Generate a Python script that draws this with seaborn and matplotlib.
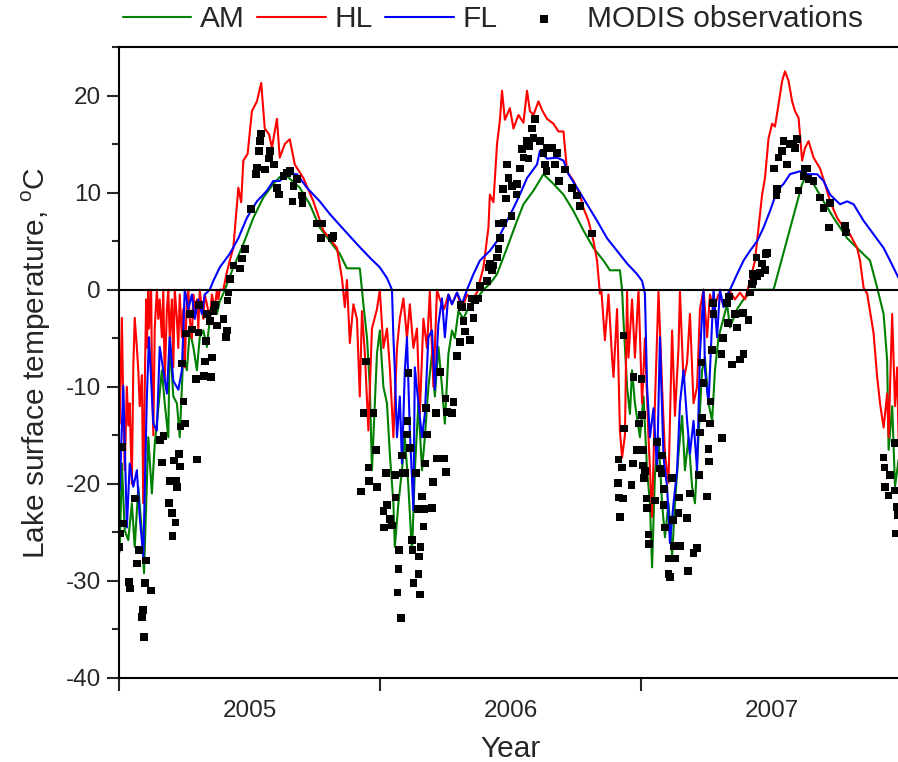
import pandas as pd
import matplotlib.pyplot as plt
import seaborn as sns
from matplotlib.ticker import MultipleLocator, FixedLocator

# days since 2005-01-01 and lake surface temperature (deg C)
am_day = [1, 4, 8, 13, 18, 22, 27, 32, 35, 41, 46, 50, 55, 60, 64, 69, 71, 76, 81, 85,
          90, 95, 99, 104, 109, 113, 118, 123, 127, 132, 137, 141, 146, 160, 174, 188, 202, 216, 225, 232,
          253, 267, 281, 295, 309, 319, 337, 340, 342, 347, 351, 354, 361, 365, 370, 375, 379, 384, 386, 391,
          396, 400, 405, 410, 414, 419, 424, 428, 433, 438, 442, 447, 452, 456, 461, 466, 470, 475, 482, 491,
          501, 510, 519, 529, 543, 557, 566, 580, 594, 608, 622, 636, 650, 664, 678, 687, 701, 704, 706, 711,
          715, 718, 722, 729, 734, 739, 743, 746, 750, 755, 760, 764, 769, 774, 778, 783, 788, 792, 797, 802,
          806, 811, 816, 820, 825, 830, 834, 839, 844, 851, 855, 865, 874, 888, 916, 956, 963, 972, 986, 1000,
          1019, 1037, 1051, 1061, 1070, 1075, 1077, 1082, 1086, 1091]
am_temp = [-27.0, -17.9, -24.8, -25.8, -22.0, -26.5, -20.3, -25.0, -29.2, -15.2, -21.0, -15.9, -12.2, -8.3, -11.7, -15.2, -4.9, -11.0, -11.7, -15.2,
           -6.6, -8.3, -4.2, -5.9, -8.3, -4.9, -4.2, -5.9, -3.0, -1.5, -2.5, -1.2, -0.4, 2.3, 4.7, 7.4, 9.5, 10.9, 11.6, 11.9,
           10.5, 8.8, 6.4, 5.0, 3.7, 2.2, 2.2, 0.0, -1.5, -4.9, -10.0, -18.6, -6.6, -4.2, -10.0, -11.7, -16.9, -22.0, -26.5, -22.0,
           -18.6, -15.2, -20.3, -27.1, -18.6, -11.7, -18.6, -15.2, -10.0, -6.6, -11.0, -5.9, -10.0, -13.8, -6.6, -4.2, -5.0, -2.2, -3.0, -1.5,
           -0.9, 0.0, 0.6, 1.6, 4.3, 7.1, 8.8, 10.2, 11.9, 10.9, 9.8, 8.1, 6.1, 4.3, 3.0, 2.0, 2.0, 0.0, -3.2, -10.0,
           -12.8, -8.3, -11.7, -15.2, -11.0, -18.6, -22.0, -28.6, -19.0, -15.2, -22.0, -25.5, -22.0, -27.5, -22.0, -16.9, -13.0, -18.6, -15.2, -20.3,
           -22.0, -15.2, -8.3, -7.0, -11.7, -13.5, -8.3, -4.9, -3.5, -1.5, -3.9, -2.0, -1.0, 0.0, 0.0, 10.9, 11.9, 10.9, 9.1, 7.4,
           5.3, 4.0, 3.0, 0.2, -2.5, -7.3, -16.5, -12.0, -20.3, -17.5]

hl_day = [1, 4, 6, 8, 11, 13, 15, 18, 20, 22, 25, 27, 29, 32, 34, 36, 38, 39, 41, 42,
          45, 46, 48, 50, 53, 55, 57, 60, 62, 64, 67, 69, 71, 74, 76, 78, 81, 83, 85, 88,
          90, 92, 95, 97, 99, 102, 104, 106, 109, 111, 113, 116, 118, 120, 123, 127, 130, 134, 137, 139,
          141, 146, 150, 155, 160, 167, 171, 174, 180, 186, 193, 199, 204, 210, 214, 221, 225, 232, 239, 246,
          258, 272, 286, 305, 312, 316, 319, 323, 328, 333, 337, 340, 344, 349, 354, 361, 365, 370, 375, 379,
          384, 389, 393, 398, 403, 407, 412, 417, 421, 426, 431, 435, 440, 445, 449, 455, 461, 466, 473, 480,
          487, 494, 501, 505, 510, 517, 519, 524, 529, 533, 536, 540, 547, 552, 559, 566, 571, 575, 580, 587,
          592, 599, 608, 615, 622, 627, 636, 645, 650, 657, 664, 669, 673, 675, 680, 685, 690, 692, 697, 701,
          704, 708, 711, 713, 718, 722, 727, 732, 736, 741, 746, 750, 755, 760, 764, 769, 774, 778, 783, 785,
          790, 795, 799, 804, 809, 813, 818, 823, 827, 832, 839, 846, 855, 862, 869, 876, 883, 890, 895, 900,
          904, 909, 914, 918, 923, 928, 932, 937, 942, 946, 951, 956, 960, 965, 972, 981, 988, 995, 1005, 1014,
          1023, 1033, 1037, 1042, 1047, 1051, 1056, 1061, 1065, 1070, 1075, 1077, 1082, 1086, 1089, 1091]
hl_temp = [-13.8, -2.9, -12.0, -18.6, -10.0, -14.0, -11.7, -20.0, -8.0, -2.9, -6.0, -8.3, -12.0, -8.8, -22.0, -10.0, -1.0, -6.0, 0.0, -4.0,
           0.0, -8.0, -15.0, -4.0, 0.0, -3.0, -1.0, -4.9, 0.0, -9.4, -2.0, 0.0, -5.0, -1.0, -8.0, 0.0, -3.0, -6.0, -0.5, -4.9,
           -2.0, -8.0, -1.0, 0.0, -3.0, -5.0, -0.5, -2.5, -1.0, -4.0, 0.0, -2.0, -3.0, -0.5, -1.5, -3.0, -0.5, -2.0, 0.0, -1.0,
           0.0, 0.0, 1.5, 3.0, 4.3, 10.5, 9.0, 13.3, 14.0, 18.4, 19.4, 21.3, 16.6, 16.0, 14.6, 17.6, 13.6, 15.0, 15.5, 12.9,
           11.5, 9.1, 6.1, 4.3, 1.2, -1.8, 1.0, -5.5, -1.5, -3.0, -11.0, -2.2, -6.5, -14.5, -4.0, -2.0, 0.0, -6.0, -4.0, -8.0,
           -15.2, -6.0, -3.0, -0.9, -5.0, -1.5, -6.0, -4.0, -12.8, -3.0, -6.0, -0.2, -10.0, 0.0, -1.0, -2.0, -0.5, -1.5, -0.3, -2.0,
           -0.5, -1.0, -0.3, 0.9, 2.3, 6.4, 9.8, 9.0, 15.0, 17.4, 20.5, 17.5, 18.7, 16.6, 18.0, 17.2, 20.5, 18.4, 18.0, 19.4,
           18.5, 17.6, 17.1, 16.3, 16.3, 12.2, 11.2, 9.8, 8.4, 7.1, 5.0, 3.0, -0.4, 0.0, -5.2, -0.5, -7.0, -9.0, -2.0, -14.5,
           -17.3, -15.0, -0.2, -7.0, -1.0, -7.0, 0.0, -11.7, -5.0, -15.2, -23.4, -11.7, -0.2, -10.0, -16.9, -19.9, -4.2, -13.0, -6.0, -0.2,
           -9.4, -7.5, -2.5, -11.7, -10.0, -2.0, 0.0, -4.9, -0.5, -2.0, -0.5, -1.5, -0.2, -1.0, -0.3, -1.0, 0.9, 3.0, 6.4, 9.8,
           11.5, 15.6, 17.1, 16.8, 19.1, 21.5, 22.5, 21.5, 19.4, 18.4, 17.7, 13.3, 14.6, 15.3, 13.6, 12.5, 10.9, 9.1, 7.4, 6.4,
           5.7, 4.3, 3.0, 0.2, -0.4, -2.2, -4.5, -9.0, -11.7, -14.2, -10.7, -15.2, -2.5, -12.0, -8.0, -15.5]

fl_day = [1, 6, 11, 15, 20, 25, 29, 34, 39, 42, 48, 53, 57, 62, 67, 71, 76, 83, 88, 92,
          97, 102, 106, 111, 116, 120, 127, 132, 141, 155, 167, 179, 193, 207, 216, 225, 235, 249, 263, 281,
          295, 312, 333, 351, 365, 375, 382, 384, 386, 389, 393, 396, 400, 403, 407, 412, 414, 419, 424, 428,
          433, 438, 442, 447, 452, 456, 461, 466, 473, 480, 487, 496, 505, 519, 529, 543, 552, 561, 571, 585,
          589, 599, 613, 622, 629, 641, 655, 669, 683, 697, 711, 725, 732, 736, 739, 743, 748, 753, 757, 762,
          767, 771, 776, 781, 785, 790, 795, 799, 804, 809, 813, 818, 820, 825, 830, 832, 837, 841, 846, 851,
          855, 865, 874, 883, 893, 902, 911, 921, 930, 939, 953, 958, 977, 986, 995, 1009, 1019, 1028, 1042, 1056,
          1070, 1079, 1091]
fl_temp = [-20.7, -9.9, -24.5, -17.9, -20.3, -18.6, -23.4, -27.5, -11.0, -4.9, -13.8, -14.5, -5.9, -8.3, -10.7, -4.9, -9.4, -10.3, -8.3, 0.0,
           -2.0, -0.5, -3.0, -1.0, -2.5, -0.5, 0.0, 0.9, 2.3, 3.7, 5.3, 7.4, 9.1, 10.2, 11.2, 11.2, 11.9, 11.9, 10.5, 9.1,
           7.8, 6.4, 4.7, 3.3, 2.3, 1.2, 0.0, -4.9, -8.3, -15.2, -11.0, -17.9, -8.3, -4.9, -14.5, -22.7, -8.0, -11.7, -15.2, -12.8,
           -4.9, -4.2, -10.3, -3.5, -0.9, -4.9, -0.5, -1.5, -0.3, -1.5, 0.0, 1.6, 3.0, 4.0, 5.0, 7.1, 8.4, 9.8, 11.5, 12.9,
           14.3, 13.5, 13.6, 13.3, 11.9, 10.5, 8.8, 7.1, 5.3, 4.0, 2.7, 1.6, 0.9, -0.4, -10.0, -15.2, -12.2, -18.6, -4.9, -17.3,
           -20.3, -26.1, -22.0, -18.6, -11.7, -8.3, -13.5, -16.9, -13.5, -18.6, -6.6, 0.0, -8.3, -11.7, -3.2, 0.0, -4.9, 0.0, -1.8, -0.5,
           0.0, 1.6, 3.0, 4.0, 5.0, 6.4, 8.1, 10.2, 10.9, 11.9, 12.2, 11.9, 11.9, 11.2, 9.8, 8.8, 9.1, 8.8, 7.1, 5.7,
           4.3, 3.0, 1.2]

modis_day = [0, 1, 4, 6, 14, 15, 22, 25, 28, 32, 34, 35, 36, 38, 45, 57, 60, 62, 70, 71,
             74, 75, 77, 80, 79, 81, 84, 85, 86, 88, 90, 92, 94, 99, 102, 108, 109, 111, 112, 119,
             120, 122, 123, 127, 129, 130, 132, 134, 137, 146, 150, 151, 152, 153, 155, 160, 169, 172, 176, 185,
             192, 193, 196, 197, 199, 204, 210, 211, 217, 221, 224, 230, 235, 239, 244, 243, 249, 256, 257, 277,
             283, 284, 298, 300, 339, 342, 346, 349, 350, 356, 360, 361, 370, 371, 374, 375, 379, 382, 386, 387,
             391, 390, 392, 395, 396, 397, 400, 403, 405, 404, 407, 410, 411, 412, 416, 419, 418, 420, 421, 422,
             424, 427, 426, 428, 431, 430, 438, 439, 445, 444, 449, 455, 458, 457, 459, 466, 468, 473, 477, 478,
             480, 482, 484, 491, 492, 494, 496, 498, 503, 505, 515, 517, 519, 522, 524, 529, 531, 532, 533, 538,
             537, 542, 543, 545, 549, 550, 556, 557, 561, 564, 566, 570, 573, 574, 578, 580, 582, 589, 594, 596,
             598, 599, 606, 610, 613, 616, 624, 634, 641, 645, 662, 699, 698, 700, 701, 704, 705, 706, 707, 717,
             720, 719, 725, 728, 731, 732, 733, 734, 735, 736, 738, 739, 741, 742, 750, 753, 757, 759, 760, 762,
             763, 764, 769, 770, 771, 774, 775, 777, 778, 784, 783, 785, 795, 796, 799, 804, 809, 812, 813, 816,
             815, 818, 823, 825, 826, 827, 828, 830, 832, 831, 843, 844, 845, 851, 852, 854, 858, 862, 865, 869,
             874, 873, 881, 883, 886, 888, 887, 893, 892, 897, 900, 904, 905, 907, 917, 920, 921, 923, 928, 930,
             935, 939, 944, 946, 949, 951, 958, 960, 963, 965, 972, 981, 986, 994, 995, 1016, 1017, 1070, 1071, 1072,
             1077, 1079, 1086, 1085, 1087, 1089, 1090]
modis_temp = [-26.5, -25.1, -16.2, -24.1, -30.1, -30.8, -21.5, -28.2, -26.8, -33.7, -33.0, -35.8, -30.2, -27.9, -31.0, -15.5, -17.8, -15.1, -22.0, -19.7,
              -23.0, -25.4, -17.6, -19.7, -24.0, -20.3, -16.9, -18.2, -14.1, -7.6, -11.5, -13.8, -4.5, -2.5, -4.1, -9.2, -17.5, -4.4, -1.6, -8.9,
              -7.4, -5.3, -2.5, -3.2, -9.0, -7.0, -2.2, -1.6, -3.7, -3.0, -4.9, -4.2, -1.1, -0.3, 1.1, 2.5, 2.2, 3.2, 4.2, 8.3,
              11.9, 12.6, 14.3, 15.3, 16.1, 12.4, 13.5, 14.3, 12.9, 10.5, 9.8, 11.7, 12.0, 12.2, 10.7, 9.1, 11.4, 9.7, 8.9, 6.8,
              5.3, 6.8, 5.3, 5.5, -20.8, -12.7, -7.4, -18.3, -19.7, -12.7, -16.5, -20.3, -22.8, -24.5, -18.9, -22.2, -23.6, -24.3, -19.1, -21.4,
              -28.8, -31.2, -26.8, -33.8, -17.1, -18.9, -18.9, -14.9, -8.6, -13.5, -16.3, -25.8, -26.8, -30.2, -18.9, -29.3, -22.6, -27.5, -31.4, -26.5,
              -21.3, -22.6, -24.4, -17.9, -14.9, -12.2, -22.5, -19.8, -17.4, -12.7, -8.5, -17.4, -18.8, -11.2, -12.6, -12.7, -11.6, -6.8, -5.4, -1.6,
              -1.8, -3.2, -4.3, -5.2, -1.8, -0.9, -2.9, -1.1, -0.9, 0.4, 0.9, 2.3, 2.7, 2.0, 2.5, 3.3, 4.2, 6.8, 5.3, 6.9,
              10.4, 9.4, 12.9, 11.5, 7.6, 10.7, 9.8, 10.9, 12.5, 14.5, 13.6, 15.3, 13.5, 14.8, 16.6, 15.6, 17.6, 15.3, 14.1, 12.9,
              12.2, 14.6, 14.6, 12.9, 14.1, 11.2, 12.4, 10.5, 9.7, 8.6, 5.8, -17.5, -19.9, -21.4, -23.4, -18.3, -21.5, -4.7, -14.3, -20.1,
              -9.0, -17.9, -16.5, -13.8, -9.2, -12.9, -18.1, -16.5, -19.4, -18.7, -21.5, -22.5, -25.2, -26.2, -21.7, -15.7, -18.4, -18.9, -17.1, -22.2,
              -20.5, -24.5, -29.3, -27.7, -29.6, -19.4, -23.7, -26.4, -27.7, -21.4, -23.0, -26.4, -23.5, -29.0, -21.0, -27.1, -26.6, -19.1, -14.7, -13.2,
              -7.5, -9.6, -21.3, -16.4, -17.7, -13.8, -11.5, -6.2, -2.5, -1.4, -6.6, -15.3, -5.0, -1.4, -3.4, -0.7, -7.7, -2.5, -3.9, -7.2,
              -6.6, -2.4, -3.1, -0.3, 0.6, 0.9, 1.6, 1.4, 3.3, 1.7, 2.7, 2.0, 3.7, 3.8, 12.5, 9.7, 10.4, 13.6, 14.3, 15.3,
              12.9, 15.0, 15.0, 14.6, 15.5, 10.2, 11.7, 12.5, 12.5, 11.4, 11.2, 9.5, 8.4, 6.4, 8.9, 6.6, 5.9, -17.3, -18.3, -20.3,
              -21.2, -19.1, -15.8, -20.7, -25.1, -22.4, -23.2]

year_ticks = [2005, 2006, 2007, 2008]
year_labels = ["2005", "2006", "2007"]


def to_frame(days, temps):
    df = pd.DataFrame({"day": days, "temp": temps})
    df["year"] = 2005 + df["day"] / 365.25
    return df


am = to_frame(am_day, am_temp)
hl = to_frame(hl_day, hl_temp)
fl = to_frame(fl_day, fl_temp)
modis = to_frame(modis_day, modis_temp)

sns.set_style("ticks")
plt.rcParams["font.family"] = ["Liberation Sans", "DejaVu Sans"]
plt.rcParams["mathtext.fontset"] = "custom"
plt.rcParams["mathtext.rm"] = "Liberation Sans"
plt.rcParams["axes.unicode_minus"] = False
plt.rcParams["axes.linewidth"] = 1.5
plt.rcParams["axes.edgecolor"] = "black"

fig = plt.figure(figsize=(8.98, 7.62), dpi=100)
ax = fig.add_axes([119 / 898, 1 - 678 / 762, (902 - 119) / 898, (678 - 47) / 762])

sns.lineplot(data=am, x="year", y="temp", color="#008000", lw=1.5, sort=False, estimator=None, label="AM", ax=ax)
sns.lineplot(data=hl, x="year", y="temp", color="#ff0000", lw=1.5, sort=False, estimator=None, label="HL", ax=ax)
sns.lineplot(data=fl, x="year", y="temp", color="#0000ff", lw=1.5, sort=False, estimator=None, label="FL", ax=ax)
ax.axhline(0, color="black", lw=1.5, zorder=2.5)
sns.scatterplot(data=modis, x="year", y="temp", marker="s", s=30, color="black", edgecolor="none",
                label="MODIS observations", zorder=5, ax=ax)

ax.set_xlim(2005, 2008)
ax.set_ylim(-40, 25)
ax.spines["right"].set_visible(False)

ax.yaxis.set_major_locator(MultipleLocator(10))
ax.yaxis.set_minor_locator(MultipleLocator(5))
ax.tick_params(axis="y", which="major", direction="out", length=9, width=1.5, labelsize=17.5, pad=4)
ax.tick_params(axis="y", which="minor", direction="out", length=5, width=1.5)

ax.xaxis.set_major_locator(FixedLocator(year_ticks))
ax.xaxis.set_major_formatter(plt.NullFormatter())
ax.xaxis.set_minor_locator(FixedLocator([y + 0.5 for y in year_ticks[:3]]))
ax.set_xticklabels(year_labels, minor=True)
ax.tick_params(axis="x", which="major", direction="out", length=9, width=1.5)
ax.tick_params(axis="x", which="minor", length=0, labelsize=17.5, pad=16)

ax.set_xlabel("Year", fontsize=21.5, labelpad=9)
ax.set_ylabel("Lake surface temperature, $^{\\mathrm{o}}$C", fontsize=21.5, labelpad=9)

handles, labels = ax.get_legend_handles_labels()
ax.legend().remove()
fig.legend(handles, labels, loc="center", bbox_to_anchor=(493 / 898, 1 - 19 / 762), ncol=4,
           frameon=False, fontsize=21.5, handlelength=2.3, handletextpad=0.3, columnspacing=0.4,
           borderpad=0, borderaxespad=0)

fig.savefig("out.png", dpi=100)
